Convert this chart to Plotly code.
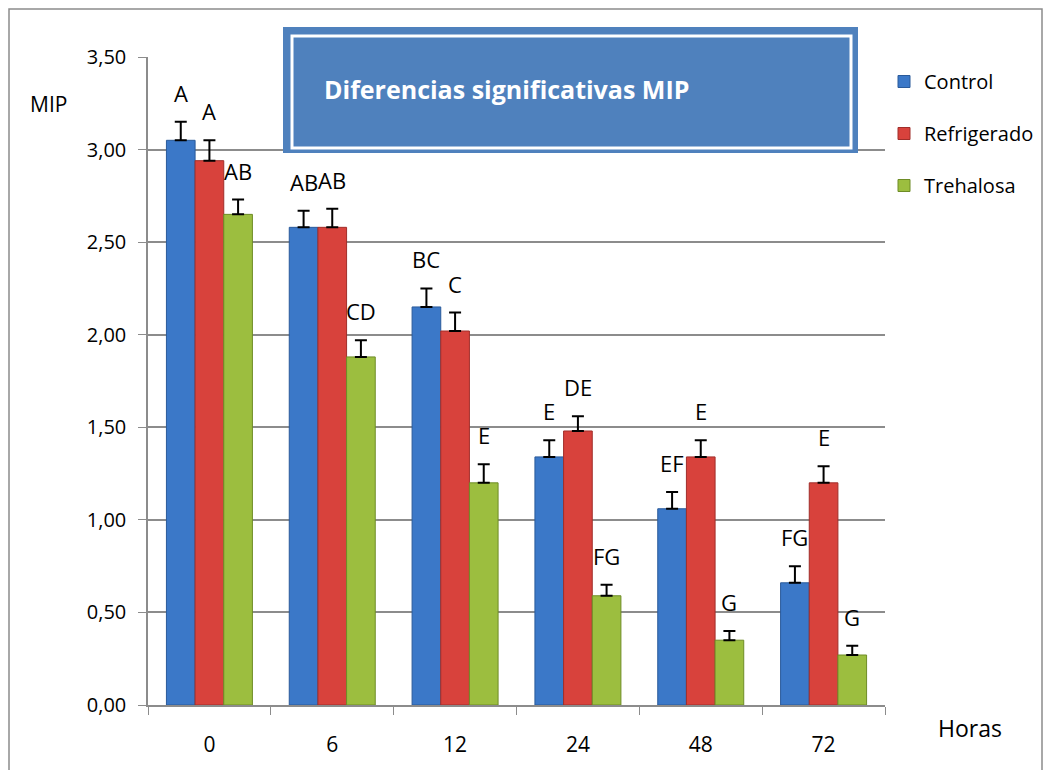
import plotly.graph_objects as go

horas = ["0", "6", "12", "24", "48", "72"]
control = [3.05, 2.58, 2.15, 1.34, 1.06, 0.66]
refrigerado = [2.94, 2.58, 2.02, 1.48, 1.34, 1.20]
trehalosa = [2.65, 1.88, 1.20, 0.59, 0.35, 0.27]
err_control = [0.10, 0.09, 0.10, 0.09, 0.09, 0.09]
err_refrigerado = [0.11, 0.10, 0.10, 0.08, 0.09, 0.09]
err_trehalosa = [0.08, 0.09, 0.10, 0.06, 0.05, 0.05]
let_control = ["A", "AB", "BC", "E", "EF", "FG"]
let_refrigerado = ["A", "AB", "C", "DE", "E", "E"]
let_trehalosa = ["AB", "CD", "E", "FG", "G", "G"]

series = [
    ("Control", control, err_control, let_control, "#3B78C8", "#2A5A9A"),
    ("Refrigerado", refrigerado, err_refrigerado, let_refrigerado, "#D8423C", "#A02E2A"),
    ("Trehalosa", trehalosa, err_trehalosa, let_trehalosa, "#9CBE3F", "#6E8C26"),
]

FONT = "Open Sans"

fig = go.Figure()
for i, (name, vals, errs, lets, col, lcol) in enumerate(series):
    fig.add_trace(go.Bar(
        name=name, x=horas, y=vals, legendgroup=name,
        marker=dict(color=col, line=dict(color=lcol, width=1)),
        error_y=dict(type="data", symmetric=False, array=errs,
                     arrayminus=[0] * len(errs), color="black",
                     thickness=2, width=6),
    ))

gap = 0.30
bw = (1 - gap) / 3

# screen pixel -> paper coordinate helpers (plot area spans x 148..885, y 57..705 on screen)
def px(x):
    return (x - 148) / 737

def py(y):
    return (705 - y) / 648

annos = []
for i, (name, vals, errs, lets, col, lcol) in enumerate(series):
    for j, (v, e, t) in enumerate(zip(vals, errs, lets)):
        annos.append(dict(x=j + (i - 1) * bw, y=v + e, xref="x", yref="y",
                          text=t, showarrow=False, xanchor="center",
                          yanchor="bottom", yshift=12,
                          font=dict(family=FONT, size=22, color="black")))

annos.append(dict(x=px(48), y=py(104), xref="paper", yref="paper",
                  xanchor="center", yanchor="middle",
                  text="MIP", showarrow=False,
                  font=dict(family=FONT, size=21, color="black")))
annos.append(dict(x=px(322), y=py(89), xref="paper", yref="paper",
                  xanchor="left", yanchor="middle",
                  text="<b>Diferencias significativas MIP</b>", showarrow=False,
                  font=dict(family=FONT, size=25, color="white")))
annos.append(dict(x=px(970), y=py(728), xref="paper", yref="paper",
                  xanchor="center", yanchor="middle",
                  text="Horas", showarrow=False,
                  font=dict(family=FONT, size=23, color="black")))

shapes = [
    dict(type="rect", xref="paper", yref="paper", x0=px(9), x1=px(1042), y0=py(800), y1=py(9),
         line=dict(color="#8C8C8C", width=1.5), fillcolor="rgba(0,0,0,0)", layer="below"),
    dict(type="rect", xref="paper", yref="paper", x0=px(283), x1=px(858), y0=py(153), y1=py(27),
         line=dict(width=0), fillcolor="#4F81BD", layer="above"),
    dict(type="rect", xref="paper", yref="paper", x0=px(292), x1=px(851), y0=py(148), y1=py(36),
         line=dict(color="white", width=3), fillcolor="rgba(0,0,0,0)", layer="above"),
]

fig.update_layout(
    width=1035, height=762,
    margin=dict(l=140, r=158, t=49, b=65, autoexpand=False),
    paper_bgcolor="white", plot_bgcolor="white",
    barmode="group", bargap=gap, bargroupgap=0,
    separators=",.",
    showlegend=True,
    legend=dict(x=px(884), y=py(62), xanchor="left", yanchor="top",
                font=dict(family=FONT, size=20, color="black"),
                tracegroupgap=23, bgcolor="rgba(0,0,0,0)", itemwidth=30),
    annotations=annos,
    shapes=shapes,
    xaxis=dict(showline=True, linecolor="#8C8C8C", linewidth=1.5,
               ticks="outside", tickson="boundaries", ticklen=8, tickcolor="#8C8C8C",
               tickfont=dict(family=FONT, size=21, color="black"),
               ticklabelstandoff=20, showgrid=False),
    yaxis=dict(range=[0, 3.5], dtick=0.5, tickformat=".2f",
               showline=True, linecolor="#8C8C8C", linewidth=1.5,
               ticks="outside", ticklen=8, tickcolor="#8C8C8C",
               showgrid=True, gridcolor="#8C8C8C", gridwidth=1.5,
               tickfont=dict(family=FONT, size=20, color="black"),
               ticklabelstandoff=8, zeroline=False),
)

fig.write_html("out.html")
